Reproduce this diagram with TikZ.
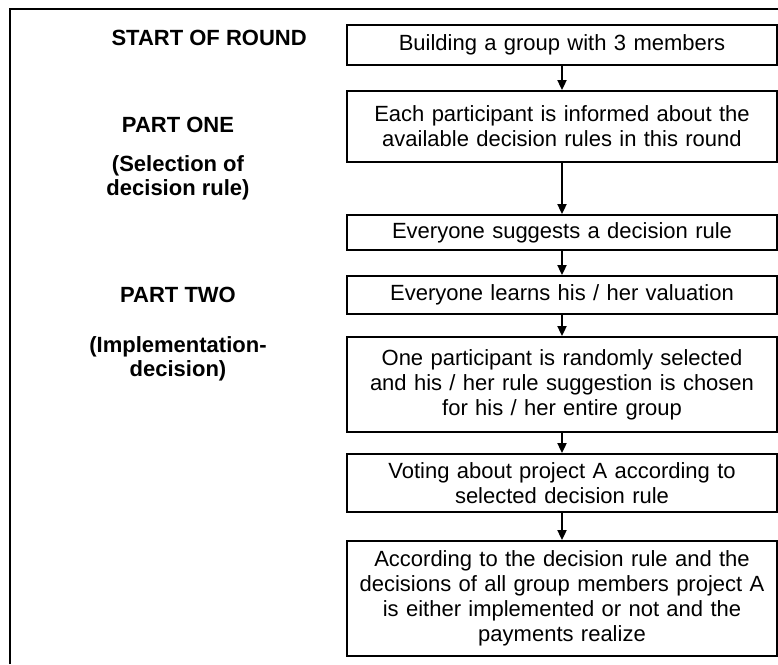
\documentclass[tikz,border=0pt]{standalone}
\usepackage{fontspec}
\setmainfont{Liberation Sans}
\usetikzlibrary{arrows.meta}
\tikzset{
  stepbox/.style={draw, line width=1.8pt, text width=420pt, inner xsep=5pt, inner ysep=0pt,
    align=center, font=\fontsize{22}{25}\selectfont},
  partlabel/.style={align=center, font=\bfseries\fontsize{22}{24}\selectfont},
  flow/.style={line width=1.8pt, -{Triangle[length=10pt,width=9pt]}}
}
\begin{document}
\begin{tikzpicture}[x=1pt,y=-1pt]
\useasboundingbox (0,0) rectangle (778,664);
%frame
\draw[line width=1.8pt] (10,664) -- (10,9) -- (778,9);
%left column
\node[partlabel, anchor=base west] (start) at (108,45) {START OF ROUND};
\node[partlabel] (partone) at (178,125) {PART ONE};
\node[partlabel] (selection) at (178,178) {(Selection of\\decision rule)};
\node[partlabel] (parttwo) at (178,295) {PART TWO};
\node[partlabel] (implementation) at (178,359) {(Implementation-\\decision)};
%steps of the round
\node[stepbox, minimum height=40pt] (group) at (562,45) {Building a group with 3 members};
\node[stepbox, minimum height=71pt] (inform) at (562,126.5) {Each participant is informed about the\\available decision rules in this round};
\node[stepbox, minimum height=35pt] (suggest) at (562,232.5) {Everyone suggests a decision rule};
\node[stepbox, minimum height=38pt] (learn) at (562,295) {Everyone learns his / her valuation};
\node[stepbox, minimum height=95pt] (select) at (562,384.5) {One participant is randomly selected\\and his / her rule suggestion is chosen\\for his / her entire group};
\node[stepbox, minimum height=58pt] (vote) at (562,483) {Voting about project A according to\\selected decision rule};
\node[stepbox, minimum height=115pt] (outcome) at (562,598.5) {According to the decision rule and the\\decisions of all group members project A\\is either implemented or not and the\\payments realize};
%arrows
\draw[flow] (group) -- (inform);
\draw[flow] (inform) -- (suggest);
\draw[flow] (suggest) -- (learn);
\draw[flow] (learn) -- (select);
\draw[flow] (select) -- (vote);
\draw[flow] (vote) -- (outcome);
\end{tikzpicture}
\end{document}
